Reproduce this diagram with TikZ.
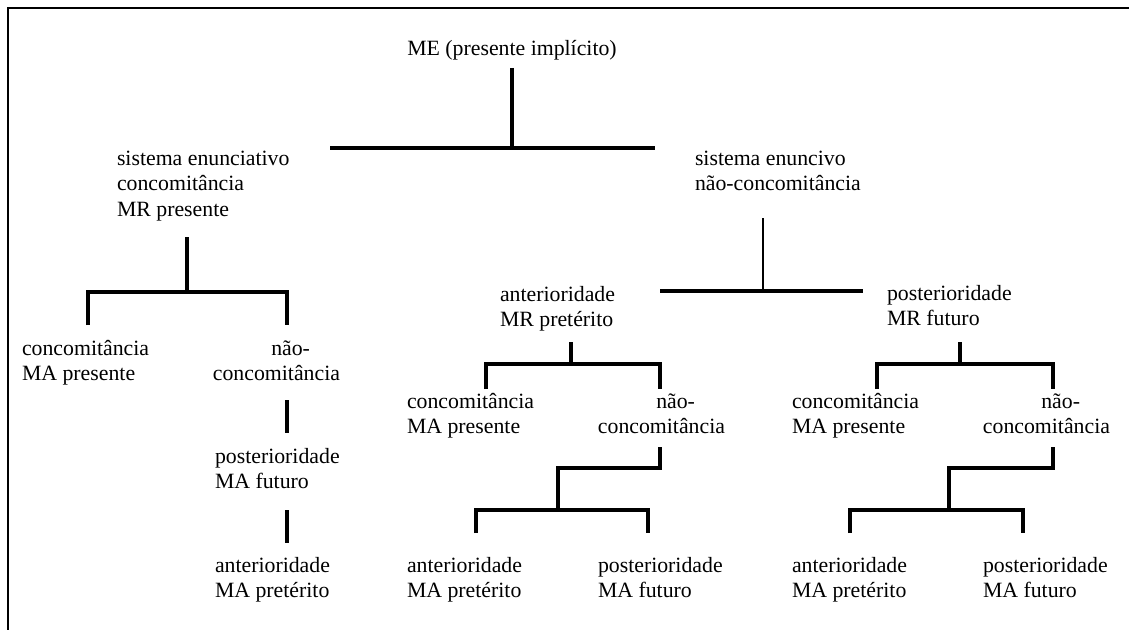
\documentclass[tikz,border=0pt]{standalone}
\usepackage{fontspec}
\setmainfont{Liberation Serif}
\begin{document}
\begin{tikzpicture}[x=0.025cm,y=-0.025cm,
  lbl/.style={inner sep=0pt,outer sep=0pt,align=left,anchor=north west,
    font=\fontsize{15.5}{18.4}\selectfont},
  lblr/.style={lbl,align=right,anchor=north east},
  tree/.style={line width=2.4pt,line cap=butt,line join=miter},
  thin/.style={line width=1.3pt},
  frame/.style={line width=1.6pt}]
\useasboundingbox (0,0) rectangle (1129,630);

% frame edges
\coordinate (f0) at (8,630);
\coordinate (f1) at (8,8);
\coordinate (f2) at (1129,8);
\draw[frame] (f0) -- (f1) -- (f2);

% labels
\node[lbl,anchor=north] (me) at (512,37) {\strut ME (presente implícito)};
\node[lbl] (enc) at (117,147) {\strut sistema enunciativo\\concomitância\\MR presente};
\node[lbl] (env) at (695,147) {\strut sistema enuncivo\\não-concomitância};

\node[lbl] (lca) at (22,337) {\strut concomitância\\MA presente};
\node[lblr] (lnc) at (340,337) {\strut não-\hspace*{0.75cm}\\concomitância};
\node[lbl] (lpost) at (215,445) {\strut posterioridade\\MA futuro};
\node[lbl] (lant) at (215,554) {\strut anterioridade\\MA pretérito};

\node[lbl] (mant) at (500,283) {\strut anterioridade\\MR pretérito};
\node[lbl] (rpost) at (887,282) {\strut posterioridade\\MR futuro};

\node[lbl] (mca) at (407,390) {\strut concomitância\\MA presente};
\node[lblr] (mnc) at (725,390) {\strut não-\hspace*{0.75cm}\\concomitância};
\node[lbl] (maa) at (407,554) {\strut anterioridade\\MA pretérito};
\node[lbl] (map) at (598,554) {\strut posterioridade\\MA futuro};

\node[lbl] (rca) at (792,390) {\strut concomitância\\MA presente};
\node[lblr] (rnc) at (1110,390) {\strut não-\hspace*{0.75cm}\\concomitância};
\node[lbl] (raa) at (792,554) {\strut anterioridade\\MA pretérito};
\node[lbl] (rap) at (983,554) {\strut posterioridade\\MA futuro};

% root split
\coordinate (r0) at (512,68);
\coordinate (r1) at (512,148);
\coordinate (rL) at (330,148);
\coordinate (rR) at (655,148);
\draw[tree] (r0) -- (r1);
\draw[tree] (rL) -- (rR);

% enunciative system branch
\coordinate (a0) at (187,237);
\coordinate (a1) at (187,292);
\coordinate (aL) at (88,292);
\coordinate (aR) at (287,292);
\coordinate (aLd) at (88,325);
\coordinate (aRd) at (287,325);
\draw[tree] (a0) -- (a1);
\draw[tree] (aLd) -- (aL) -- (aR) -- (aRd);
\coordinate (b0) at (287,400);
\coordinate (b1) at (287,433);
\draw[tree] (b0) -- (b1);
\coordinate (c0) at (287,510);
\coordinate (c1) at (287,543);
\draw[tree] (c0) -- (c1);

% enuncive system branch
\coordinate (e0) at (763,218);
\coordinate (e1) at (763,291);
\coordinate (eL) at (660,291);
\coordinate (eR) at (863,291);
\draw[thin] (e0) -- (e1);
\draw[tree] (eL) -- (eR);

% anterior (MR preterite) subtree
\coordinate (m0) at (571,342);
\coordinate (m1) at (571,364);
\coordinate (mL) at (486,364);
\coordinate (mR) at (660,364);
\coordinate (mLd) at (486,389);
\coordinate (mRd) at (660,389);
\draw[tree] (m0) -- (m1);
\draw[tree] (mLd) -- (mL) -- (mR) -- (mRd);
\coordinate (n0) at (660,447);
\coordinate (n1) at (660,468);
\coordinate (n2) at (558,468);
\coordinate (n3) at (558,510);
\draw[tree] (n0) -- (n1) -- (n2) -- (n3);
\coordinate (nL) at (476,510);
\coordinate (nR) at (648,510);
\coordinate (nLd) at (476,533);
\coordinate (nRd) at (648,533);
\draw[tree] (nLd) -- (nL) -- (nR) -- (nRd);

% posterior (MR future) subtree
\coordinate (p0) at (960,342);
\coordinate (p1) at (960,364);
\coordinate (pL) at (877,364);
\coordinate (pR) at (1053,364);
\coordinate (pLd) at (877,389);
\coordinate (pRd) at (1053,389);
\draw[tree] (p0) -- (p1);
\draw[tree] (pLd) -- (pL) -- (pR) -- (pRd);
\coordinate (q0) at (1053,447);
\coordinate (q1) at (1053,468);
\coordinate (q2) at (949,468);
\coordinate (q3) at (949,510);
\draw[tree] (q0) -- (q1) -- (q2) -- (q3);
\coordinate (qL) at (850,510);
\coordinate (qR) at (1023,510);
\coordinate (qLd) at (850,533);
\coordinate (qRd) at (1023,533);
\draw[tree] (qLd) -- (qL) -- (qR) -- (qRd);
\end{tikzpicture}
\end{document}
